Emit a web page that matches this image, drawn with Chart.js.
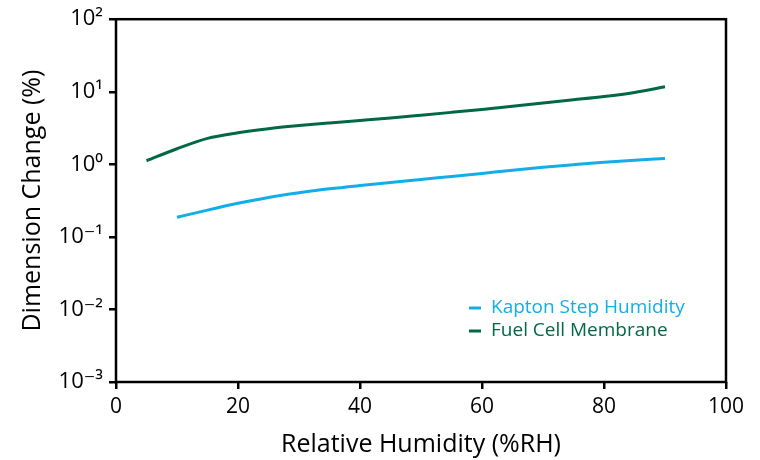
<!DOCTYPE html>
<html>
<head>
<meta charset="utf-8">
<script src="https://cdn.jsdelivr.net/npm/chart.js@4/dist/chart.umd.min.js"></script>
<style>
  html, body { margin: 0; padding: 0; background: #fff; }
  #wrap { width: 760px; height: 460px; }
</style>
</head>
<body>
<div id="wrap"><canvas id="c" width="760" height="460"></canvas></div>
<script>
// ---- data ----
const seriesNames = ['Kapton Step Humidity', 'Fuel Cell Membrane'];
const kaptonRH = [10, 15, 20, 25, 30, 35, 40, 45, 50, 55, 60, 65, 70, 75, 80, 85, 90];
const kaptonChange = [0.186, 0.234, 0.29, 0.35, 0.405, 0.46, 0.51, 0.56, 0.62, 0.68, 0.75, 0.83, 0.91, 0.99, 1.07, 1.14, 1.2];
const fuelRH = [5, 10, 15, 20, 25, 30, 35, 40, 45, 50, 55, 60, 65, 70, 75, 80, 85, 90];
const fuelChange = [1.12, 1.64, 2.28, 2.72, 3.1, 3.42, 3.72, 4.02, 4.35, 4.75, 5.2, 5.7, 6.3, 7.0, 7.75, 8.6, 9.8, 11.7];
const xTickValues = [0, 20, 40, 60, 80, 100];
const yTickValues = [0.001, 0.01, 0.1, 1, 10, 100];
const yTickLabels = ['10⁻³', '10⁻²', '10⁻¹', '10⁰', '10¹', '10²'];
const xTitle = 'Relative Humidity (%RH)';
const yTitle = 'Dimension Change (%)';

const BLUE = '#12aee8';
const GREEN = '#006847';
const FONT = "'Open Sans', 'DejaVu Sans', sans-serif";

const toPts = (xs, ys) => xs.map((x, i) => ({ x: x, y: ys[i] }));

const boxPlugin = {
  id: 'box',
  afterDraw(chart) {
    const { ctx, chartArea: a } = chart;
    ctx.save();
    ctx.strokeStyle = '#000';
    ctx.lineWidth = 2.5;
    ctx.strokeRect(a.left, a.top, a.right - a.left, a.bottom - a.top);
    ctx.restore();
  }
};

const legendPlugin = {
  id: 'inLegend',
  afterDraw(chart) {
    const { ctx, chartArea: a } = chart;
    ctx.save();
    ctx.font = '19px ' + FONT;
    ctx.textBaseline = 'middle';
    chart.data.datasets.forEach((ds, i) => {
      const y = a.bottom - 74 + i * 23;
      const x0 = a.right - 257;
      ctx.strokeStyle = ds.borderColor;
      ctx.lineWidth = 3;
      ctx.beginPath();
      ctx.moveTo(x0, y);
      ctx.lineTo(x0 + 12, y);
      ctx.stroke();
      ctx.fillStyle = ds.borderColor;
      ctx.fillText(ds.label, x0 + 22, y);
    });
    ctx.restore();
  }
};

new Chart(document.getElementById('c'), {
  type: 'line',
  data: {
    datasets: [
      { label: seriesNames[0], data: toPts(kaptonRH, kaptonChange), borderColor: BLUE, borderWidth: 3, pointRadius: 0, cubicInterpolationMode: 'monotone', fill: false },
      { label: seriesNames[1], data: toPts(fuelRH, fuelChange), borderColor: GREEN, borderWidth: 3, pointRadius: 0, cubicInterpolationMode: 'monotone', fill: false }
    ]
  },
  options: {
    responsive: false,
    animation: false,
    devicePixelRatio: 1,
    layout: { padding: { top: 19, right: 34, left: 0, bottom: 0 } },
    plugins: { legend: { display: false }, tooltip: { enabled: false } },
    scales: {
      x: {
        type: 'linear',
        min: 0, max: 100,
        afterBuildTicks: s => { s.ticks = xTickValues.map(v => ({ value: v })); },
        afterFit: s => { s.height = 78; },
        grid: { drawOnChartArea: false, drawTicks: true, tickLength: 7, color: '#000', lineWidth: 2.5 },
        border: { display: false },
        ticks: { color: '#000', font: { family: FONT, size: 21 }, padding: 5, maxRotation: 0 },
        title: { display: true, text: xTitle, color: '#000', font: { family: FONT, size: 25 }, padding: { top: 1, bottom: 0 } }
      },
      y: {
        type: 'logarithmic',
        min: 0.001, max: 100,
        afterBuildTicks: s => { s.ticks = yTickValues.map(v => ({ value: v })); },
        afterFit: s => { s.width = 116; },
        grid: { drawOnChartArea: false, drawTicks: true, tickLength: 7, color: '#000', lineWidth: 2.5 },
        border: { display: false },
        ticks: {
          color: '#000', font: { family: FONT, size: 22 }, padding: 6,
          callback: (v) => { const i = yTickValues.findIndex(t => Math.abs(t - v) / t < 1e-6); return i >= 0 ? yTickLabels[i] : ''; }
        },
        title: { display: true, text: yTitle, color: '#000', font: { family: FONT, size: 25 }, padding: { top: 18, bottom: 0 } }
      }
    }
  },
  plugins: [boxPlugin, legendPlugin]
});
</script>
</body>
</html>
